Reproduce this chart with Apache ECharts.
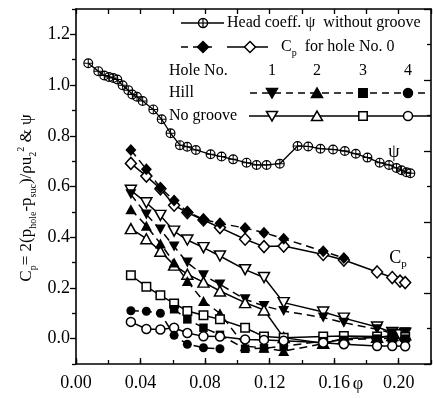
<!DOCTYPE html>
<html>
<head>
<meta charset="utf-8">
<script src="https://cdn.jsdelivr.net/npm/echarts@6/dist/echarts.min.js"></script>
<style>
  html, body { margin: 0; padding: 0; background: #fff; }
  #main { width: 433px; height: 398px; }
</style>
</head>
<body>
<div id="main"></div>
<script>
// head coefficient psi, without groove
const psiPhi = [0.0076, 0.0138, 0.0175, 0.0204, 0.0231, 0.0256, 0.0289, 0.0324, 0.0349, 0.0378, 0.0413, 0.0479, 0.0531, 0.0586, 0.0644, 0.0689, 0.0743, 0.0834, 0.0902, 0.0974, 0.1057, 0.1119, 0.1181, 0.1263, 0.1373, 0.1439, 0.1515, 0.1593, 0.1666, 0.1734, 0.1806, 0.1882, 0.1940, 0.1986, 0.2017, 0.2048, 0.2072]
const psiVal = [1.086, 1.055, 1.038, 1.032, 1.028, 1.022, 0.999, 0.980, 0.963, 0.954, 0.937, 0.904, 0.865, 0.810, 0.763, 0.757, 0.744, 0.727, 0.718, 0.707, 0.694, 0.685, 0.685, 0.690, 0.760, 0.758, 0.749, 0.746, 0.740, 0.729, 0.714, 0.694, 0.685, 0.673, 0.664, 0.656, 0.652]

// flow coefficients where Cp was measured
const holePhi = [0.0340, 0.0436, 0.0523, 0.0608, 0.0690, 0.0790, 0.0892, 0.1048, 0.1165, 0.1287, 0.1532, 0.1660, 0.1866, 0.1960, 0.2008, 0.2040]

// Cp per hole, "Hill" (dashed, filled) and "No groove" (solid, open)
const cpHill0 = [0.744, 0.668, 0.595, 0.545, 0.500, 0.470, 0.455, 0.436, 0.418, 0.394, 0.345, 0.318, null, null, null, null]
const cpNoGroove0 = [0.691, 0.641, 0.591, 0.526, 0.497, 0.468, 0.438, 0.392, 0.363, 0.365, 0.332, 0.310, 0.263, 0.241, 0.227, 0.221]
const cpHill1 = [0.569, 0.490, 0.430, 0.363, 0.300, 0.250, 0.214, 0.155, 0.129, 0.109, 0.083, 0.063, 0.037, 0.021, null, 0.025]
const cpNoGroove1 = [0.585, 0.536, 0.486, 0.424, 0.389, 0.359, 0.326, 0.272, 0.241, 0.142, 0.105, 0.081, 0.046, 0.024, 0.015, 0.021]
const cpHill2 = [0.510, 0.445, 0.375, 0.300, 0.227, 0.148, 0.100, -0.030, -0.036, -0.049, -0.020, 0.000, 0.005, 0.010, null, 0.010]
const cpNoGroove2 = [0.434, 0.394, 0.345, 0.290, 0.254, 0.223, 0.188, 0.142, 0.113, 0.004, -0.018, 0.000, 0.005, 0.012, null, 0.015]
const cpHill3 = [null, null, null, 0.116, 0.076, 0.043, 0.015, -0.040, -0.038, -0.030, -0.010, -0.005, 0.000, 0.002, null, 0.000]
const cpNoGroove3 = [0.250, 0.205, 0.171, 0.139, 0.109, 0.092, 0.076, 0.043, 0.008, 0.004, 0.008, 0.010, 0.008, 0.005, null, 0.006]
const cpHill4 = [0.110, 0.108, 0.100, 0.013, -0.022, -0.036, -0.040, null, null, null, null, null, null, null, null, null]
const cpNoGroove4 = [0.066, 0.038, 0.036, 0.043, 0.022, 0.009, 0.008, -0.003, -0.005, -0.008, -0.016, -0.022, -0.029, -0.029, null, -0.030]

const holeNos = ['1', '2', '3', '4']

const font = "'Liberation Serif', 'Times New Roman', serif"
const plusCircle = 'path://M10,0A10,10,0,1,1,10,20A10,10,0,1,1,10,0ZM10,2.4A7.6,7.6,0,1,0,10,17.6A7.6,7.6,0,1,0,10,2.4ZM9,1H11V19H9ZM1,9H19V11H1Z'
const lw = 1.5

function pairs(xs, ys) {
  return xs.map((x, i) => [x, ys[i]]).filter((p) => p[1] !== null)
}

function cpSeries(ys, symbol, filled, dashed, size, rotate) {
  return {
    type: 'line',
    data: pairs(holePhi, ys),
    symbol: symbol,
    symbolSize: size,
    symbolRotate: rotate || 0,
    showAllSymbol: true,
    lineStyle: { color: '#000', width: lw, type: dashed ? [8, 5] : 'solid' },
    itemStyle: {
      color: filled ? '#000' : '#fff',
      borderColor: '#000',
      borderWidth: filled ? 0 : lw,
    },
    emphasis: { disabled: true },
  }
}

// legend pieces (drawn by hand, the original has a table-like legend)
function seg(x1, x2, y, dashed) {
  return {
    type: 'line',
    shape: { x1: x1, y1: y, x2: x2, y2: y },
    style: { stroke: '#000', lineWidth: lw, lineDash: dashed ? [7, 5] : null },
  }
}
function poly(points, filled) {
  return {
    type: 'polygon',
    shape: { points: points },
    style: { fill: filled ? '#000' : '#fff', stroke: '#000', lineWidth: lw },
  }
}
function diamond(cx, cy, filled) {
  return poly([[cx, cy - 5.5], [cx + 5.5, cy], [cx, cy + 5.5], [cx - 5.5, cy]], filled)
}
function tri(cx, cy, down, filled) {
  return down
    ? poly([[cx - 5.5, cy - 4.5], [cx + 5.5, cy - 4.5], [cx, cy + 5]], filled)
    : poly([[cx - 5.5, cy + 4.5], [cx + 5.5, cy + 4.5], [cx, cy - 5]], filled)
}
function square(cx, cy, filled) {
  return {
    type: 'rect',
    shape: { x: cx - 4.2, y: cy - 4.2, width: 8.4, height: 8.4 },
    style: { fill: filled ? '#000' : '#fff', stroke: '#000', lineWidth: lw },
  }
}
function dot(cx, cy, filled) {
  return {
    type: 'circle',
    shape: { cx: cx, cy: cy, r: 4.5 },
    style: { fill: filled ? '#000' : '#fff', stroke: '#000', lineWidth: lw },
  }
}
function txt(x, y, text, size, align, rich) {
  return {
    type: 'text',
    x: x,
    y: y,
    style: {
      text: text,
      fill: '#000',
      font: size + 'px ' + font,
      align: align || 'left',
      verticalAlign: 'middle',
      rich: rich,
    },
  }
}

const subRich = {
  a: { fontSize: 16, fontFamily: font, lineHeight: 22, verticalAlign: 'middle', fill: '#000' },
  s: { fontSize: 10, fontFamily: font, lineHeight: 10, verticalAlign: 'bottom', fill: '#000' },
  u: { fontSize: 10, fontFamily: font, lineHeight: 10, verticalAlign: 'top', fill: '#000' },
}
const titleRich = {
  a: { fontSize: 17, fontFamily: font, lineHeight: 22, verticalAlign: 'middle', fill: '#000' },
  s: { fontSize: 10, fontFamily: font, lineHeight: 10, verticalAlign: 'bottom', fill: '#000' },
  u: { fontSize: 10, fontFamily: font, lineHeight: 10, verticalAlign: 'top', fill: '#000' },
}
const bigRich = {
  a: { fontSize: 18, fontFamily: font, lineHeight: 24, verticalAlign: 'middle', fill: '#000' },
  s: { fontSize: 11, fontFamily: font, lineHeight: 11, verticalAlign: 'bottom', fill: '#000' },
}

const markX = [272, 317, 363, 408]
const legend = [
  seg(181, 224, 23, false),
  dot(203, 23, false),
  { type: 'line', shape: { x1: 198.5, y1: 23, x2: 207.5, y2: 23 }, style: { stroke: '#000', lineWidth: 1.2 } },
  { type: 'line', shape: { x1: 203, y1: 18.5, x2: 203, y2: 27.5 }, style: { stroke: '#000', lineWidth: 1.2 } },
  txt(227, 23, 'Head coeff. ψ  without groove', 16),

  seg(181, 214, 47, true),
  diamond(203, 47, true),
  seg(227, 268, 47, false),
  diamond(250, 47, false),
  txt(281, 47, '{a|C}{s|p}{a|  for hole No. 0}', 16, 'left', subRich),

  txt(169, 71, 'Hole No.', 16),
  ...holeNos.map((n, i) => txt(markX[i], 71, n, 16, 'center')),

  txt(169, 93, 'Hill', 16),
  seg(250, 425, 93, true),
  tri(markX[0], 93, true, true),
  tri(markX[1], 93, false, true),
  square(markX[2], 93, true),
  dot(markX[3], 93, true),

  txt(169, 116, 'No groove', 16),
  seg(249, 431, 116, false),
  tri(markX[0], 116, true, false),
  tri(markX[1], 116, false, false),
  square(markX[2], 116, false),
  dot(markX[3], 116, false),

  txt(394, 152, 'ψ', 18, 'center'),
  txt(398, 258, '{a|C}{s|p}', 18, 'center', bigRich),
  txt(358, 384, 'φ', 18, 'center'),
  {
    type: 'text',
    x: 27,
    y: 198,
    rotation: Math.PI / 2,
    style: {
      text: '{a|C}{s|p}{a|= 2(p}{s|hole}{a|-p}{s|suc}{a|)/ρu}{s|2}{u|2}{a| & ψ}',
      align: 'center',
      verticalAlign: 'middle',
      rich: titleRich,
    },
  },
]

const chart = echarts.init(document.getElementById('main'), null, { renderer: 'canvas' })

const option = {
  animation: false,
  backgroundColor: '#fff',
  textStyle: { fontFamily: font, color: '#000' },
  grid: { left: 76, right: 2, top: 9, bottom: 34 },
  xAxis: [
    {
      type: 'value',
      position: 'bottom',
      min: 0,
      max: 0.22,
      interval: 0.04,
      axisLine: { onZero: false, lineStyle: { color: '#000', width: 1.6 } },
      axisTick: { inside: true, length: 6, lineStyle: { color: '#000', width: 1.3 } },
      axisLabel: {
        color: '#000',
        fontSize: 18,
        fontFamily: font,
        margin: 10,
        showMaxLabel: false,
        formatter: (v) => v.toFixed(2),
      },
      splitLine: { show: false },
    },
    {
      type: 'value',
      position: 'bottom',
      min: 0,
      max: 0.22,
      interval: 0.02,
      axisLine: { show: false, onZero: false },
      axisTick: { inside: true, length: 4, lineStyle: { color: '#000', width: 1.3 } },
      axisLabel: { show: false },
      splitLine: { show: false },
    },
    {
      type: 'value',
      position: 'top',
      min: 0,
      max: 0.22,
      interval: 0.02,
      axisLine: { onZero: false, lineStyle: { color: '#000', width: 1.6 } },
      axisTick: { inside: true, length: 5, lineStyle: { color: '#000', width: 1.3 } },
      axisLabel: { show: false },
      splitLine: { show: false },
    },
  ],
  yAxis: [
    {
      type: 'value',
      position: 'left',
      min: -0.1,
      max: 1.3,
      splitNumber: 7,
      axisLine: { onZero: false, lineStyle: { color: '#000', width: 1.6 } },
      axisTick: { inside: false, length: 6, lineStyle: { color: '#000', width: 1.3 } },
      axisLabel: {
        color: '#000',
        fontSize: 18,
        fontFamily: font,
        margin: 6,
        showMinLabel: false,
        showMaxLabel: false,
        formatter: (v) => v.toFixed(1),
      },
      splitLine: { show: false },
    },
    {
      // odd tenths: short ticks only
      type: 'value',
      position: 'left',
      min: -0.1,
      max: 1.3,
      interval: 0.2,
      axisLine: { show: false, onZero: false },
      axisTick: { inside: false, length: 4, lineStyle: { color: '#000', width: 1.3 } },
      axisLabel: { show: false },
      splitLine: { show: false },
    },
    {
      type: 'value',
      position: 'right',
      min: 0,
      max: 10,
      interval: 2,
      axisLine: { onZero: false, lineStyle: { color: '#000', width: 1.6 } },
      axisTick: { inside: true, length: 7, lineStyle: { color: '#000', width: 1.3 } },
      minorTick: { show: true, splitNumber: 2, length: 4, lineStyle: { color: '#000', width: 1.3 } },
      axisLabel: { show: false },
      splitLine: { show: false },
    },
  ],
  series: [
    {
      type: 'line',
      data: pairs(psiPhi, psiVal),
      symbol: plusCircle,
      symbolSize: 10,
      showAllSymbol: true,
      lineStyle: { color: '#000', width: 1.3 },
      itemStyle: { color: '#000' },
      emphasis: { disabled: true },
    },
    cpSeries(cpNoGroove0, 'diamond', false, false, [11, 12]),
    cpSeries(cpHill0, 'diamond', true, true, [11, 12]),
    cpSeries(cpNoGroove1, 'triangle', false, false, [11, 10], 180),
    cpSeries(cpHill1, 'triangle', true, true, [11, 10], 180),
    cpSeries(cpNoGroove2, 'triangle', false, false, [11, 10]),
    cpSeries(cpHill2, 'triangle', true, true, [11, 10]),
    cpSeries(cpNoGroove3, 'rect', false, false, 8.5),
    cpSeries(cpHill3, 'rect', true, true, 8.5),
    cpSeries(cpNoGroove4, 'circle', false, false, 9),
    cpSeries(cpHill4, 'circle', true, true, 9),
  ],
  graphic: legend,
}

chart.setOption(option)
</script>
</body>
</html>
